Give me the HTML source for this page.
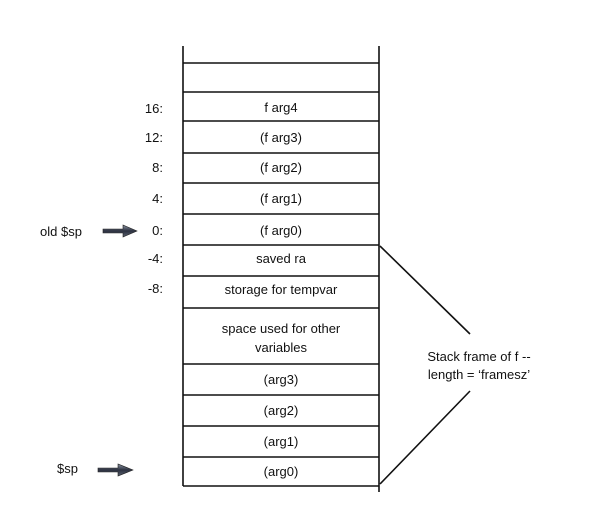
<!DOCTYPE html>
<html><head><style>
html,body{margin:0;padding:0;background:#fff;}
svg text{font-family:"Liberation Sans",sans-serif;font-size:13px;fill:#111;}
</style></head><body>
<svg width="605" height="507" viewBox="0 0 605 507" xmlns="http://www.w3.org/2000/svg">
<defs>
<linearGradient id="ag" x1="0" y1="0" x2="0" y2="1">
<stop offset="0" stop-color="#8a93a3"/><stop offset="0.5" stop-color="#2c3140"/><stop offset="1" stop-color="#5a6170"/>
</linearGradient>
</defs>
<g stroke="#111" stroke-width="1.6" fill="none">
<line x1="183" y1="46" x2="183" y2="486"/>
<line x1="379" y1="46" x2="379" y2="492"/>
<line x1="183" y1="63" x2="379" y2="63"/>
<line x1="183" y1="92" x2="379" y2="92"/>
<line x1="183" y1="121" x2="379" y2="121"/>
<line x1="183" y1="153" x2="379" y2="153"/>
<line x1="183" y1="183" x2="379" y2="183"/>
<line x1="183" y1="214" x2="379" y2="214"/>
<line x1="183" y1="245" x2="379" y2="245"/>
<line x1="183" y1="276" x2="379" y2="276"/>
<line x1="183" y1="308" x2="379" y2="308"/>
<line x1="183" y1="364" x2="379" y2="364"/>
<line x1="183" y1="395" x2="379" y2="395"/>
<line x1="183" y1="426" x2="379" y2="426"/>
<line x1="183" y1="457" x2="379" y2="457"/>
<line x1="183" y1="486" x2="379" y2="486"/>
<line x1="380" y1="246" x2="470" y2="334"/>
<line x1="470" y1="391" x2="380" y2="484"/>
</g>
<g text-anchor="middle">
<text x="281" y="112">f arg4</text>
<text x="281" y="142">(f arg3)</text>
<text x="281" y="172">(f arg2)</text>
<text x="281" y="203">(f arg1)</text>
<text x="281" y="235">(f arg0)</text>
<text x="281" y="263">saved ra</text>
<text x="281" y="294">storage for tempvar</text>
<text x="281" y="333">space used for other</text>
<text x="281" y="352">variables</text>
<text x="281" y="384">(arg3)</text>
<text x="281" y="415">(arg2)</text>
<text x="281" y="446">(arg1)</text>
<text x="281" y="476">(arg0)</text>
<text x="479" y="361">Stack frame of f --</text>
<text x="479" y="379">length = ‘framesz’</text>
</g>
<g text-anchor="end">
<text x="163" y="113">16:</text>
<text x="163" y="142">12:</text>
<text x="163" y="172">8:</text>
<text x="163" y="203">4:</text>
<text x="163" y="235">0:</text>
<text x="163" y="263">-4:</text>
<text x="163" y="293">-8:</text>
</g>
<text x="40" y="236">old $sp</text>
<text x="57" y="473">$sp</text>
<polygon points="103,229 123,229 123,225 137,231 123,237 123,233 103,233" fill="url(#ag)" stroke="#222" stroke-width="0.6"/>
<polygon points="98,468 118,468 118,464 133,470 118,476 118,472 98,472" fill="url(#ag)" stroke="#222" stroke-width="0.6"/>
</svg>
</body></html>
